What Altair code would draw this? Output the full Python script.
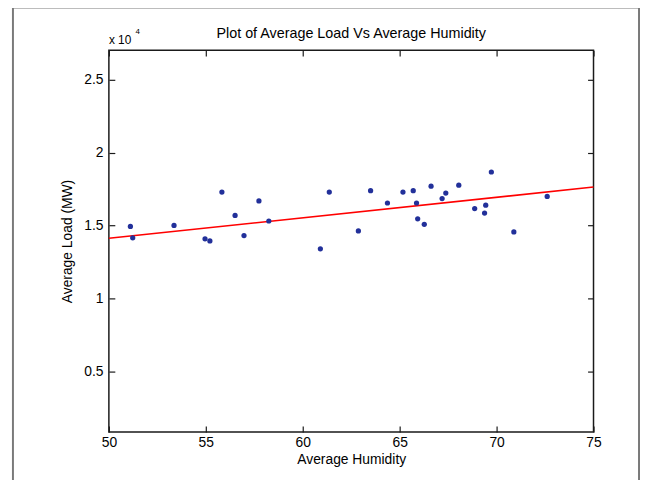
import altair as alt
import pandas as pd

# Data
humidity = [51.11, 51.23, 53.36, 54.96, 55.21, 55.83, 56.51, 56.97, 57.74, 58.25,
            60.91, 61.37, 62.87, 63.50, 64.37, 65.17, 65.70, 65.87, 65.93, 66.27, 66.62,
            67.19, 67.38, 68.05, 68.87, 69.38, 69.44, 69.73, 70.89, 72.61]
load = [14950, 14170, 15020, 14100, 13960, 17300, 15700, 14320, 16690, 15320,
        13420, 17300, 14640, 17390, 16550, 17300, 17390, 16550, 15470, 15090, 17700,
        16850, 17230, 17770, 16170, 15860, 16400, 18670, 14570, 17000]

fit_humidity = [50, 75]
fit_load = [14140, 17640]

x_ticks = [50, 55, 60, 65, 70, 75]
y_ticks = [5000, 10000, 15000, 20000, 25000]

title_text = "Plot of Average Load Vs Average Humidity"
x_title = "Average Humidity"
y_title = "Average Load (MW)"

FONT = "Liberation Sans"
DARK = "#1a1a1a"

points_df = pd.DataFrame({"humidity": humidity, "load": load})
fit_df = pd.DataFrame({"humidity": fit_humidity, "load": fit_load})

xscale = alt.Scale(domain=[50, 75], nice=False, zero=False)
yscale = alt.Scale(domain=[900, 27000], nice=False, zero=False)

tick_axis = dict(domain=False, grid=False, tickSize=6, offset=-6,
                 tickColor=DARK, tickWidth=1.2)
label_axis = dict(labelFont=FONT, labelFontSize=14, labelColor="#000",
                  labelFlush=False, labelOverlap=False,
                  titleFont=FONT, titleFontSize=14, titleFontWeight="normal",
                  titleColor="#000")

points = alt.Chart(points_df).mark_circle(size=28, color="#22309a", opacity=1).encode(
    x=alt.X("humidity:Q", scale=xscale,
            axis=alt.Axis(orient="bottom", values=x_ticks, title=x_title,
                          labelPadding=4, titlePadding=3, **tick_axis, **label_axis)),
    y=alt.Y("load:Q", scale=yscale,
            axis=alt.Axis(orient="left", values=y_ticks, title=y_title,
                          labelExpr="datum.value / 10000",
                          labelPadding=6, titlePadding=9, **tick_axis, **label_axis)),
)

fit = alt.Chart(fit_df).mark_line(color="#ff0000", strokeWidth=1.6).encode(
    x=alt.X("humidity:Q", scale=xscale,
            axis=alt.Axis(orient="top", values=x_ticks, labels=False, title=None,
                          **tick_axis)),
    y=alt.Y("load:Q", scale=yscale,
            axis=alt.Axis(orient="right", values=y_ticks, labels=False, title=None,
                          **tick_axis)),
)

one = pd.DataFrame({"a": [0]})

title = alt.Chart(one).mark_text(text=title_text, font=FONT, fontSize=14.5,
                                 align="center", baseline="alphabetic",
                                 color="#000").encode(
    x=alt.value(245), y=alt.value(-12))

exp_base = alt.Chart(one).mark_text(text="x 10", font=FONT, fontSize=12,
                                    align="left", baseline="alphabetic",
                                    color="#000").encode(
    x=alt.value(0), y=alt.value(-6))

exp_sup = alt.Chart(one).mark_text(text="4", font=FONT, fontSize=8,
                                   align="left", baseline="alphabetic",
                                   color="#000").encode(
    x=alt.value(27), y=alt.value(-16))

border_left = alt.Chart(one).mark_rule(color="#7a7a7a", strokeWidth=2).encode(
    x=alt.value(-97), y=alt.value(-43), y2=alt.value(470))
border_right = alt.Chart(one).mark_rule(color="#7a7a7a", strokeWidth=2).encode(
    x=alt.value(536), y=alt.value(-43), y2=alt.value(470))
border_top = alt.Chart(one).mark_rule(color="#7a7a7a", strokeWidth=2).encode(
    x=alt.value(-98), x2=alt.value(537), y=alt.value(-43))

chart = alt.layer(border_left, border_right, border_top, fit, points,
                  title, exp_base, exp_sup).properties(
    width=490, height=386,
    autosize=alt.AutoSizeParams(type="none"),
    padding={"left": 102, "top": 40, "right": 47, "bottom": 46},
    background="white",
).configure_view(stroke=DARK, strokeWidth=1.5)

chart.save("out.html", embed_options={"renderer": "svg", "actions": False})
